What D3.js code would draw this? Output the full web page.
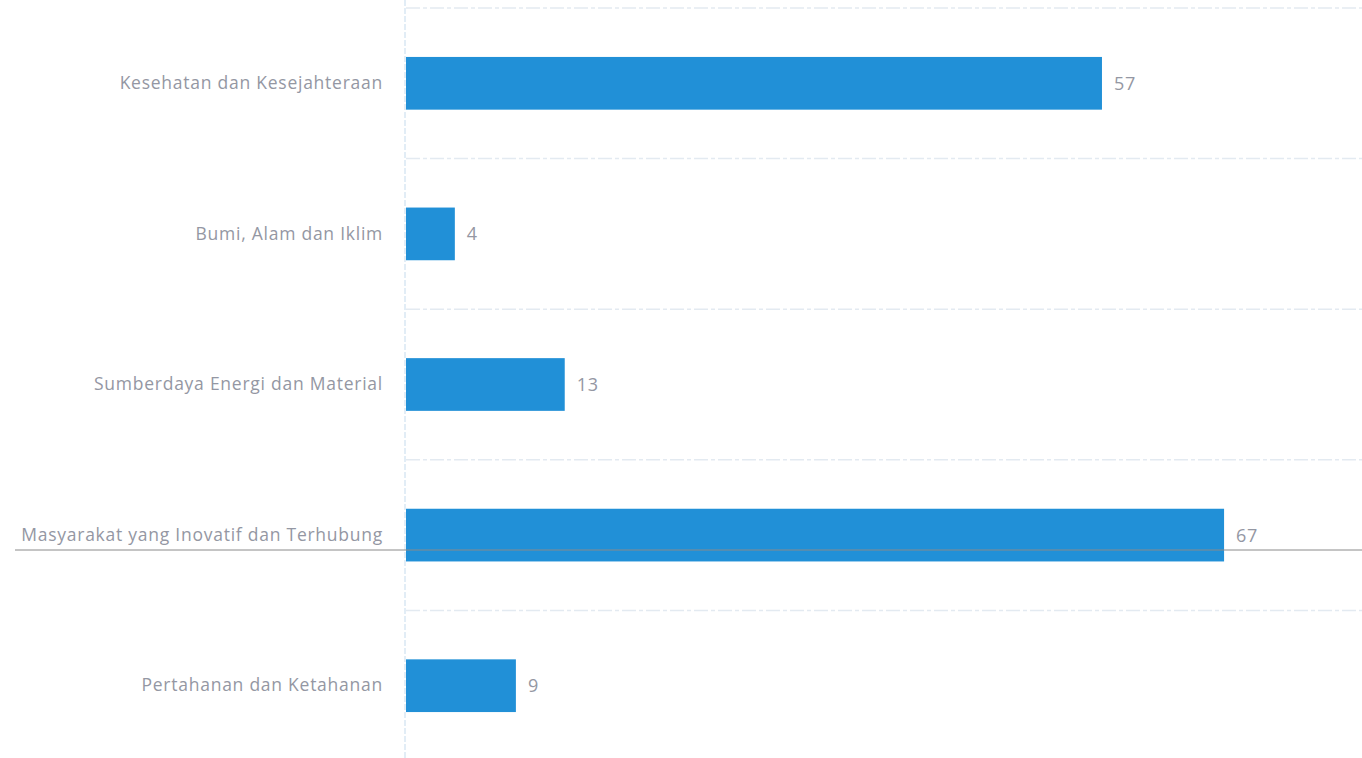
<!DOCTYPE html>
<html>
<head>
<meta charset="utf-8">
<script src="https://cdn.jsdelivr.net/npm/d3@7"></script>
<style>
  html, body { margin: 0; padding: 0; background: #ffffff; }
  svg { display: block; }
  text { font-family: "Open Sans", "Noto Sans", sans-serif; }
</style>
</head>
<body>
<svg id="chart" width="1362" height="758"></svg>
<script>
// Research focus areas and their counts
const categories = [
  "Kesehatan dan Kesejahteraan",
  "Bumi, Alam dan Iklim",
  "Sumberdaya Energi dan Material",
  "Masyarakat yang Inovatif dan Terhubung",
  "Pertahanan dan Ketahanan"
];
const values = [57, 4, 13, 67, 9];

const svg = d3.select("#chart");
const W = 1362, H = 758;

const x = d3.scaleLinear().domain([0, 80]).range([406, 406 + 80 * 12.21]);
const y = d3.scaleBand().domain(categories).range([8, 761])
  .paddingInner(0.65).paddingOuter(0.325);

const step = y.step();
const bounds = d3.range(categories.length + 1).map(i => 8 + i * step);

// Light dashed separators between the category rows
svg.append("g").selectAll("line").data(bounds).join("line")
  .attr("x1", 406).attr("x2", W)
  .attr("y1", d => d).attr("y2", d => d)
  .attr("stroke", "#e3eaf1").attr("stroke-width", 1.5)
  .attr("stroke-dasharray", "14,3,4,3");

// Category axis
const yAxis = svg.append("g")
  .attr("transform", `translate(${x(0) - 1},0)`)
  .call(d3.axisLeft(y).tickSize(0).tickPadding(22));
yAxis.select(".domain")
  .attr("d", `M0,0V${H}`)
  .attr("stroke", "#d9e8f4").attr("stroke-width", 1.5)
  .attr("stroke-dasharray", "6,2");
yAxis.selectAll(".tick text")
  .attr("fill", "#9497a3")
  .style("font-size", "17.5px")
  .style("letter-spacing", "0.75px")
  .style("font-family", "'Open Sans', sans-serif");

// Bars
svg.append("g").selectAll("rect").data(values).join("rect")
  .attr("x", x(0))
  .attr("y", (d, i) => y(categories[i]))
  .attr("width", d => x(d) - x(0))
  .attr("height", y.bandwidth())
  .attr("fill", "#2190d7");

// Value labels
svg.append("g").selectAll("text").data(values).join("text")
  .attr("x", d => x(d) + 12)
  .attr("y", (d, i) => y(categories[i]) + y.bandwidth() / 2)
  .attr("dy", "0.36em")
  .attr("fill", "#9497a3")
  .style("font-size", "18px")
  .style("letter-spacing", "0.75px")
  .text(d => d);

// Thin gray rule across the page
svg.append("line")
  .attr("x1", 15).attr("x2", W)
  .attr("y1", 550).attr("y2", 550)
  .attr("stroke", "#8a8a8a").attr("stroke-width", 1);
</script>
</body>
</html>
